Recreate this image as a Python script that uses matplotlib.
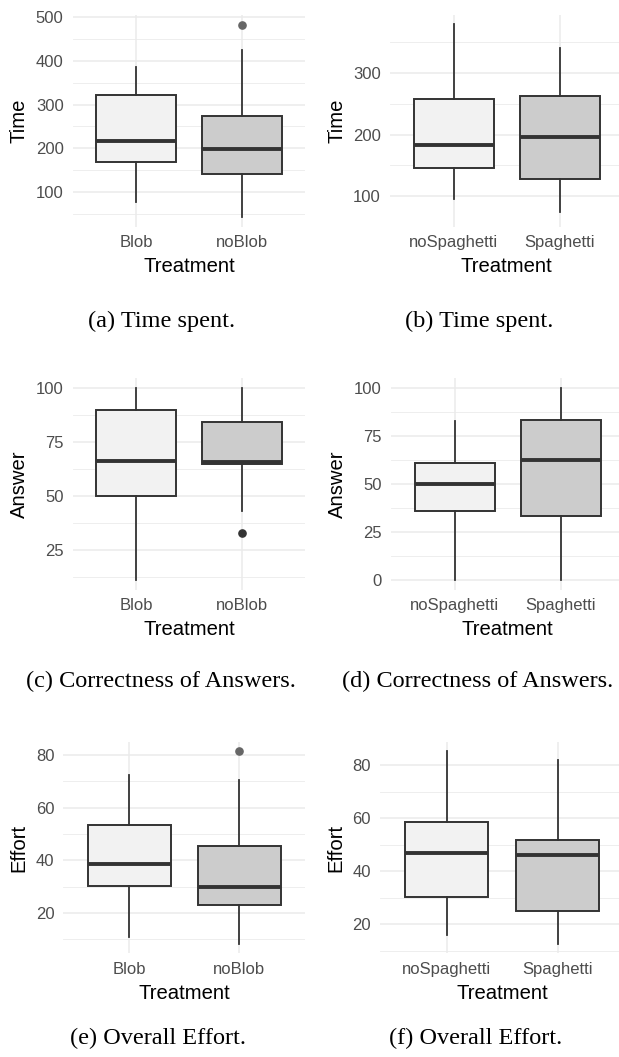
import matplotlib
matplotlib.use("Agg")
import matplotlib.pyplot as plt

# ---------------- data ----------------
groups_blob = ["Blob", "noBlob"]
groups_spag = ["noSpaghetti", "Spaghetti"]

# five-number summaries: [whislo, q1, med, q3, whishi]
time_blob = [[77, 168, 216, 321, 386], [42, 142, 199, 274, 425]]
time_blob_out = [[], [483]]
time_spag = [[95, 145, 183, 258, 379], [74, 128, 196, 262, 340]]
time_spag_out = [[], []]

ans_blob = [[11, 50, 66.1, 90, 100], [43, 64.7, 65.6, 84.3, 100]]
ans_blob_out = [[], [33]]
ans_spag = [[0, 36, 50, 61.2, 83], [0, 33.3, 62.3, 83.3, 100]]
ans_spag_out = [[], []]

eff_blob = [[11, 30.3, 38.7, 53.5, 72.4], [8.4, 23.2, 30, 45.5, 70.5]]
eff_blob_out = [[], [81.4]]
eff_spag = [[16, 30.4, 46.7, 58.5, 85.3], [12.6, 24.8, 46.1, 51.9, 81.9]]
eff_spag_out = [[], []]

ticks_time_a = [100, 200, 300, 400, 500]
minor_time_a = [50, 150, 250, 350, 450]
ticks_time_b = [100, 200, 300]
minor_time_b = [50, 150, 250, 350]
ticks_ans_c = [25, 50, 75, 100]
ticks_ans_d = [0, 25, 50, 75, 100]
minor_ans = [12.5, 37.5, 62.5, 87.5]
ticks_eff = [20, 40, 60, 80]
minor_eff = [10, 30, 50, 70]

captions = ["(a) Time spent.", "(b) Time spent.",
            "(c) Correctness of Answers.", "(d) Correctness of Answers.",
            "(e) Overall Effort.", "(f) Overall Effort."]
ylabels = ["Time", "Time", "Answer", "Answer", "Effort", "Effort"]
xlabel = "Treatment"

# ---------------- layout (pixels) ----------------
W, H = 619, 1057
fig = plt.figure(figsize=(W / 100, H / 100), dpi=100)

panels = [
    dict(groups=groups_blob, stats=time_blob, out=time_blob_out, ticks=ticks_time_a, minor=minor_time_a,
         box=(72.6, 15, 305.4, 227), cap=(162, 321.7)),
    dict(groups=groups_spag, stats=time_spag, out=time_spag_out, ticks=ticks_time_b, minor=minor_time_b,
         box=(390, 15, 623.6, 227), cap=(479, 321.7)),
    dict(groups=groups_blob, stats=ans_blob, out=ans_blob_out, ticks=ticks_ans_c, minor=minor_ans,
         box=(72.6, 378.3, 305.4, 590), cap=(161, 681.7)),
    dict(groups=groups_spag, stats=ans_spag, out=ans_spag_out, ticks=ticks_ans_d, minor=minor_ans,
         box=(391, 378.3, 624.6, 590), cap=(478, 681.7)),
    dict(groups=groups_blob, stats=eff_blob, out=eff_blob_out, ticks=ticks_eff, minor=minor_eff,
         box=(63.3, 741.7, 305.3, 953.3), cap=(158, 1038)),
    dict(groups=groups_spag, stats=eff_spag, out=eff_spag_out, ticks=ticks_eff, minor=minor_eff,
         box=(380, 741.7, 624.3, 953.3), cap=(476, 1038)),
]
flier_colors = ["#666666", None, "#333333", None, "#666666", None]
fills = ["#F2F2F2", "#CCCCCC"]
line_c = "#333333"

for i, p in enumerate(panels):
    x0, y0, x1, y1 = p["box"]
    ax = fig.add_axes([x0 / W, 1 - y1 / H, (x1 - x0) / W, (y1 - y0) / H])
    bstats = []
    allv = []
    for g, s, o in zip(p["groups"], p["stats"], p["out"]):
        bstats.append(dict(label=g, whislo=s[0], q1=s[1], med=s[2], q3=s[3], whishi=s[4], fliers=o))
        allv += [s[0], s[4]] + list(o)
    fc = flier_colors[i] or "#333333"
    bp = ax.bxp(bstats, positions=[1, 2], widths=0.75, patch_artist=True, showcaps=False,
                boxprops=dict(edgecolor=line_c, linewidth=1.4),
                medianprops=dict(color=line_c, linewidth=2.8, solid_capstyle="butt"),
                whiskerprops=dict(color=line_c, linewidth=1.3),
                flierprops=dict(marker="o", markerfacecolor=fc, markeredgecolor=fc, markersize=5.2))
    for patch, f in zip(bp["boxes"], fills):
        patch.set_facecolor(f)
    lo, hi = min(allv), max(allv)
    pad = 0.05 * (hi - lo)
    ax.set_ylim(lo - pad, hi + pad)
    ax.set_xlim(0.4, 2.6)
    ax.set_yticks(p["ticks"])
    ax.set_yticks(p["minor"], minor=True)
    ax.set_xticks([1, 2])
    ax.set_xticklabels(p["groups"])
    ax.set_axisbelow(True)
    ax.grid(which="major", color="#EBEBEB", linewidth=1.1)
    ax.grid(which="minor", axis="y", color="#EBEBEB", linewidth=0.6)
    for sp in ax.spines.values():
        sp.set_visible(False)
    ax.tick_params(which="both", length=0)
    ax.tick_params(axis="y", pad=6.5)
    ax.tick_params(axis="x", pad=6)
    for lab in ax.get_xticklabels() + ax.get_yticklabels():
        lab.set_family("Liberation Sans")
        lab.set_fontsize(12)
        lab.set_color("#4D4D4D")
    ax.set_xlabel(xlabel, fontsize=14.6, family="Liberation Sans", labelpad=5)
    ax.set_ylabel(ylabels[i], fontsize=14.6, family="Liberation Sans", labelpad=5)
    cx, cy = p["cap"]
    fig.text(cx / W, 1 - cy / H, captions[i], ha="center", va="center",
             fontsize=17.5, family="Liberation Serif")

fig.savefig("out.png", dpi=100, facecolor="white")
